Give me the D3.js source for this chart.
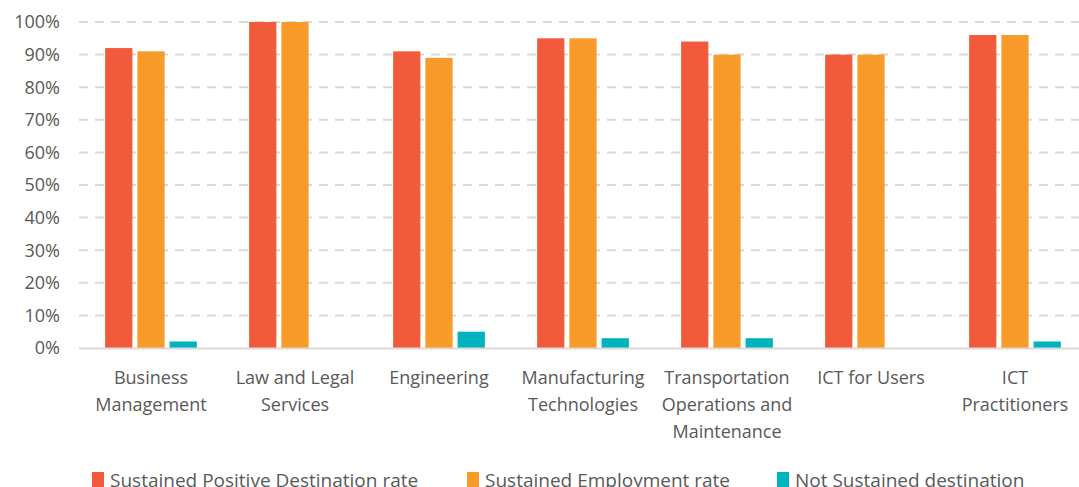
<!DOCTYPE html>
<html><head><meta charset="utf-8">
<script src="https://cdn.jsdelivr.net/npm/d3@7"></script>
<style>body{margin:0;background:#fff}svg{display:block}text{font-family:"Open Sans",sans-serif;fill:#595959}</style>
</head><body><svg id="c" width="1079" height="487"></svg>
<script>
const categories = [["Business","Management"],["Law and Legal","Services"],["Engineering"],["Manufacturing","Technologies"],["Transportation","Operations and","Maintenance"],["ICT for Users"],["ICT","Practitioners"]];
const seriesNames = ["Sustained Positive Destination rate","Sustained Employment rate","Not Sustained destination"];
const positiveRate = [92,100,91,95,94,90,96];
const employmentRate = [91,100,89,95,90,90,96];
const notSustained = [2,0,5,3,3,0,2];
const yTicks = [0,10,20,30,40,50,60,70,80,90,100];
const colors = ["#F15A3A","#F99B2A","#00B4BD"];
const series = [positiveRate, employmentRate, notSustained];

const svg = d3.select("#c");
const x = d3.scaleBand().domain(d3.range(categories.length)).range([79,1087]);
const y = d3.scaleLinear().domain([0,100]).range([348,22]);
const xi = d3.scaleBand().domain(d3.range(3)).range([0,x.bandwidth()]).paddingInner(0.155).paddingOuter(0.81);

// gridlines
svg.append("g").selectAll("line").data(yTicks.filter(d=>d>0)).join("line")
  .attr("x1",79).attr("x2",1079).attr("y1",d=>y(d)).attr("y2",d=>y(d))
  .attr("stroke","#D9D9D9").attr("stroke-width",2).attr("stroke-dasharray","9,7");
// y labels
svg.append("g").selectAll("text").data(yTicks).join("text")
  .attr("x",60).attr("y",d=>y(d)).attr("dy","0.35em").attr("text-anchor","end")
  .style("font-size","18px").text(d=>d+"%");

// bars
series.forEach((vals,si)=>{
  svg.append("g").selectAll("rect").data(vals).join("rect")
    .attr("x",(d,i)=>x(i)+xi(si)).attr("width",xi.bandwidth())
    .attr("y",d=>y(d)).attr("height",d=>y(0)-y(d))
    .attr("fill",colors[si]);
});
// axis line
svg.append("line").attr("x1",79).attr("x2",1079).attr("y1",y(0)+0.5).attr("y2",y(0)+0.5).attr("stroke","#D9D9D9").attr("stroke-width",2);

// category labels
const cl = svg.append("g").selectAll("text").data(categories).join("text")
  .attr("x",(d,i)=>x(i)+x.bandwidth()/2).attr("text-anchor","middle").style("font-size","18px");
cl.each(function(lines){
  d3.select(this).selectAll("tspan").data(lines).join("tspan")
    .attr("x",d3.select(this).attr("x")).attr("y",(d,j)=>384+j*27).text(d=>d);
});

// legend
const legX = [92,467,777];
const lg = svg.append("g").selectAll("g").data(seriesNames).join("g").attr("transform",(d,i)=>`translate(${legX[i]},0)`);
lg.append("rect").attr("x",0).attr("y",472).attr("width",12).attr("height",15).attr("fill",(d,i)=>colors[i]);
lg.append("text").attr("x",18).attr("y",480).attr("dy","0.35em").style("font-size","19px").text(d=>d);
</script></body></html>
